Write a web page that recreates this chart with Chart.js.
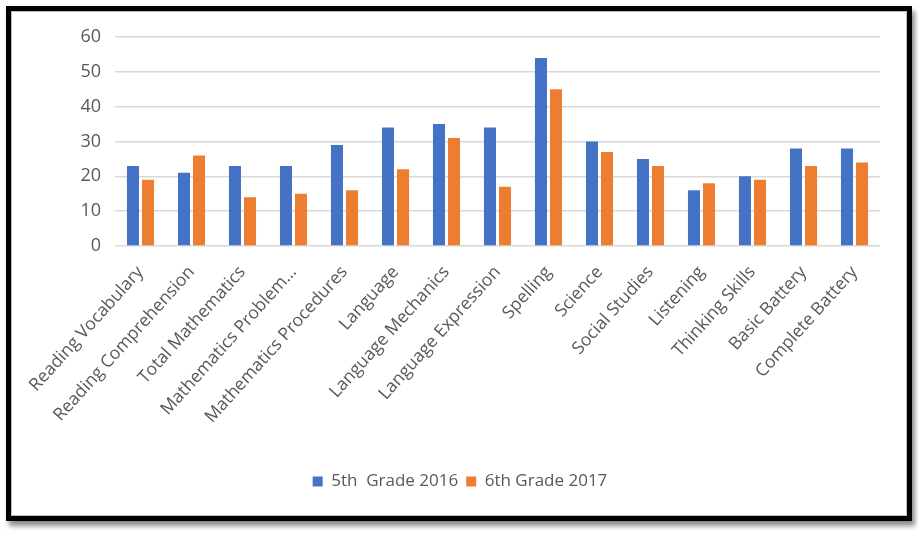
<!DOCTYPE html>
<html>
<head>
<meta charset="utf-8">
<script src="https://cdn.jsdelivr.net/npm/chart.js@4"></script>
<style>
    html, body { margin: 0; padding: 0; background: #fff; }
    #moldura {
        position: absolute; left: 6px; top: 6px; width: 896px; height: 505px;
        border: 5px solid #000;
        box-shadow: inset 0 0 0 1px #bdbdbd, 3px 5px 5px rgba(0,0,0,0.45);
        background: #fff;
    }
    #grafico { position: absolute; left: 0; top: 0; }
</style>
</head>
<body>
<div id="moldura"></div>
<canvas id="grafico" width="918" height="533"></canvas>
<script>
// Categorias do eixo x
const categorias = [
    'Reading Vocabulary', 'Reading Comprehension', 'Total Mathematics',
    'Mathematics Problem…', 'Mathematics Procedures', 'Language',
    'Language Mechanics', 'Language Expression', 'Spelling', 'Science',
    'Social Studies', 'Listening', 'Thinking Skills', 'Basic Battery',
    'Complete Battery'
];

// Valores das séries
const serie2016 = [23, 21, 23, 23, 29, 34, 35, 34, 54, 30, 25, 16, 20, 28, 28];
const serie2017 = [19, 26, 14, 15, 16, 22, 31, 17, 45, 27, 23, 18, 19, 23, 24];

// Ticks do eixo y
const ticksY = [0, 10, 20, 30, 40, 50, 60];

const corTexto = '#595959';

const config = {
    type: 'bar',
    data: {
        labels: categorias,
        datasets: [{
            label: '5th  Grade 2016',
            data: serie2016,
            backgroundColor: '#4472c4',
            categoryPercentage: 0.59,
            barPercentage: 0.8
        }, {
            label: '6th Grade 2017',
            data: serie2017,
            backgroundColor: '#ed7d31',
            categoryPercentage: 0.59,
            barPercentage: 0.8
        }]
    },
    options: {
        responsive: false,
        animation: false,
        layout: { padding: { left: 40, right: 38, top: 37, bottom: 33 } },
        plugins: {
            tooltip: { enabled: false },
            legend: {
                position: 'bottom',
                labels: {
                    color: corTexto,
                    font: { family: 'Open Sans', size: 17 },
                    boxWidth: 10,
                    boxHeight: 10,
                    padding: 8
                }
            }
        },
        scales: {
            x: {
                grid: { display: false },
                border: { display: false },
                ticks: {
                    color: corTexto,
                    font: { family: 'Open Sans', size: 17.5 },
                    minRotation: 48,
                    maxRotation: 48,
                    autoSkip: false,
                    padding: 8
                },
                afterFit: function (eixo) { eixo.height = 219; }
            },
            y: {
                min: ticksY[0],
                max: ticksY[ticksY.length - 1],
                afterBuildTicks: function (eixo) {
                    eixo.ticks = ticksY.map(function (v) { return { value: v }; });
                },
                grid: { color: '#d9d9d9', lineWidth: 1.5, drawTicks: false },
                border: { display: false },
                ticks: {
                    color: corTexto,
                    font: { family: 'Open Sans', size: 18 },
                    padding: 14
                },
                afterFit: function (eixo) { eixo.width = 75; }
            }
        }
    }
};

new Chart(document.getElementById('grafico'), config);
</script>
</body>
</html>
